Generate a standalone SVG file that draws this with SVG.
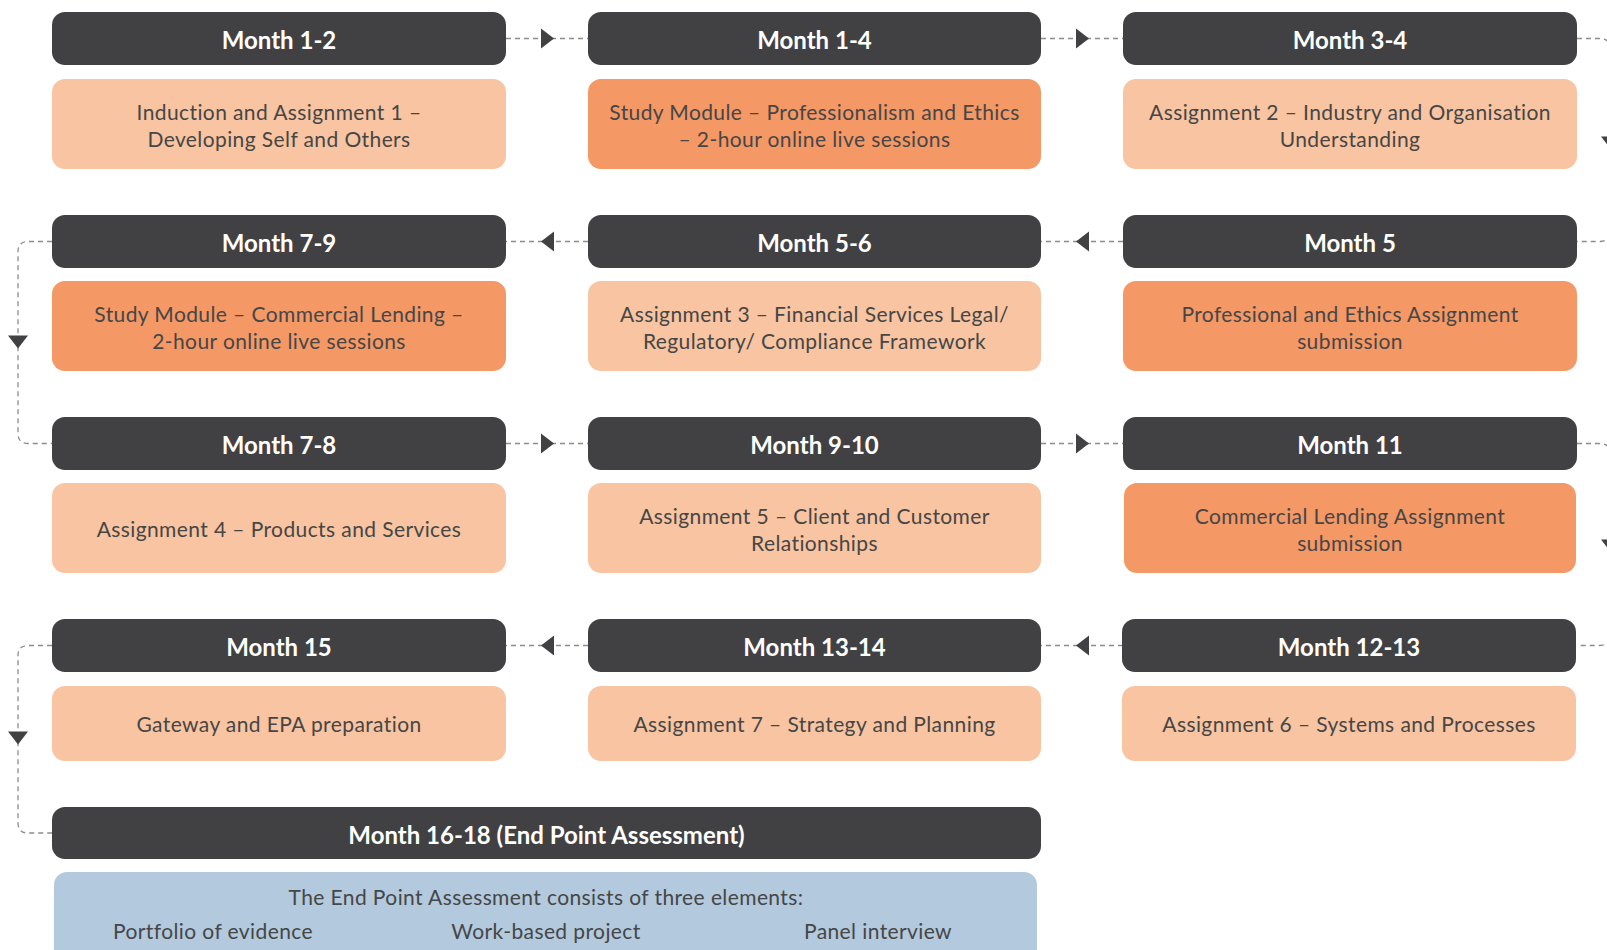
<svg xmlns="http://www.w3.org/2000/svg" width="1607" height="950" viewBox="0 0 1607 950">
<style>
.hd{fill:#414143}
.lt{fill:#F8C4A1}
.or{fill:#F49866}
.bl{fill:#B2C9DE}
.ht{font-family:Lato,"Liberation Sans",sans-serif;font-weight:700;font-size:24px;fill:#ffffff;text-anchor:middle}
.bt{font-family:Lato,"Liberation Sans",sans-serif;font-size:21px;letter-spacing:0.4px;fill:#464646;text-anchor:middle}
.cn{fill:none;stroke:#8c8c8c;stroke-width:1.3;stroke-dasharray:5 4}
.ah{fill:#414143}
</style>
<defs>
<path id="ar" d="M-6.5,-10 L6.5,0 L-6.5,10 Z"/>
</defs>
<rect width="1607" height="950" fill="#ffffff"/>
<g id="connectors">
<path class="cn" d="M506,38.5 H588"/>
<path class="cn" d="M1041,38.5 H1123"/>
<path class="cn" d="M1577,38.5 H1599 Q1611,38.5 1611,50.5 V229.5 Q1611,241.5 1599,241.5 H1577"/>
<path class="cn" d="M1123,241.5 H1041"/>
<path class="cn" d="M588,241.5 H506"/>
<path class="cn" d="M52,241.5 H28 Q18,241.5 18,251.5 V433.5 Q18,443.5 28,443.5 H52"/>
<path class="cn" d="M506,443.5 H588"/>
<path class="cn" d="M1041,443.5 H1123"/>
<path class="cn" d="M1577,443.5 H1599 Q1611,443.5 1611,455.5 V633.5 Q1611,645.5 1599,645.5 H1577"/>
<path class="cn" d="M1123,645.5 H1041"/>
<path class="cn" d="M588,645.5 H506"/>
<path class="cn" d="M52,645.5 H28 Q18,645.5 18,655.5 V823 Q18,833 28,833 H52"/>
<use href="#ar" class="ah" transform="translate(547.5,38.5)"/>
<use href="#ar" class="ah" transform="translate(1082.5,38.5)"/>
<use href="#ar" class="ah" transform="translate(1611,143) rotate(90)"/>
<use href="#ar" class="ah" transform="translate(1082.5,241.5) rotate(180)"/>
<use href="#ar" class="ah" transform="translate(547.5,241.5) rotate(180)"/>
<use href="#ar" class="ah" transform="translate(18,342) rotate(90)"/>
<use href="#ar" class="ah" transform="translate(547.5,443.5)"/>
<use href="#ar" class="ah" transform="translate(1082.5,443.5)"/>
<use href="#ar" class="ah" transform="translate(1611,546) rotate(90)"/>
<use href="#ar" class="ah" transform="translate(1082.5,645.5) rotate(180)"/>
<use href="#ar" class="ah" transform="translate(547.5,645.5) rotate(180)"/>
<use href="#ar" class="ah" transform="translate(18,738) rotate(90)"/>
</g>
<g id="n1">
<rect class="hd" x="52" y="12" width="454" height="53" rx="13"/>
<text class="ht" x="279" y="48.5">Month 1-2</text>
<rect class="lt" x="52" y="79" width="454" height="90" rx="13"/>
<text class="bt" x="279" y="120">Induction and Assignment 1 –</text>
<text class="bt" x="279" y="147">Developing Self and Others</text>
</g>
<g id="n2">
<rect class="hd" x="588" y="12" width="453" height="53" rx="13"/>
<text class="ht" x="814.5" y="48.5">Month 1-4</text>
<rect class="or" x="588" y="79" width="453" height="90" rx="13"/>
<text class="bt" x="814.5" y="120">Study Module – Professionalism and Ethics</text>
<text class="bt" x="814.5" y="147">– 2-hour online live sessions</text>
</g>
<g id="n3">
<rect class="hd" x="1123" y="12" width="454" height="53" rx="13"/>
<text class="ht" x="1350" y="48.5">Month 3-4</text>
<rect class="lt" x="1123" y="79" width="454" height="90" rx="13"/>
<text class="bt" x="1350" y="120">Assignment 2 – Industry and Organisation</text>
<text class="bt" x="1350" y="147">Understanding</text>
</g>
<g id="n4">
<rect class="hd" x="1123" y="215" width="454" height="53" rx="13"/>
<text class="ht" x="1350" y="251.5">Month 5</text>
<rect class="or" x="1123" y="281" width="454" height="90" rx="13"/>
<text class="bt" x="1350" y="322">Professional and Ethics Assignment</text>
<text class="bt" x="1350" y="349">submission</text>
</g>
<g id="n5">
<rect class="hd" x="588" y="215" width="453" height="53" rx="13"/>
<text class="ht" x="814.5" y="251.5">Month 5-6</text>
<rect class="lt" x="588" y="281" width="453" height="90" rx="13"/>
<text class="bt" x="814.5" y="322">Assignment 3 – Financial Services Legal/</text>
<text class="bt" x="814.5" y="349">Regulatory/ Compliance Framework</text>
</g>
<g id="n6">
<rect class="hd" x="52" y="215" width="454" height="53" rx="13"/>
<text class="ht" x="279" y="251.5">Month 7-9</text>
<rect class="or" x="52" y="281" width="454" height="90" rx="13"/>
<text class="bt" x="279" y="322">Study Module – Commercial Lending –</text>
<text class="bt" x="279" y="349">2-hour online live sessions</text>
</g>
<g id="n7">
<rect class="hd" x="52" y="417" width="454" height="53" rx="13"/>
<text class="ht" x="279" y="453.5">Month 7-8</text>
<rect class="lt" x="52" y="483" width="454" height="90" rx="13"/>
<text class="bt" x="279" y="537">Assignment 4 – Products and Services</text>
</g>
<g id="n8">
<rect class="hd" x="588" y="417" width="453" height="53" rx="13"/>
<text class="ht" x="814.5" y="453.5">Month 9-10</text>
<rect class="lt" x="588" y="483" width="453" height="90" rx="13"/>
<text class="bt" x="814.5" y="524">Assignment 5 – Client and Customer</text>
<text class="bt" x="814.5" y="551">Relationships</text>
</g>
<g id="n9">
<rect class="hd" x="1123" y="417" width="454" height="53" rx="13"/>
<text class="ht" x="1350" y="453.5">Month 11</text>
<rect class="or" x="1124" y="483" width="452" height="90" rx="13"/>
<text class="bt" x="1350" y="524">Commercial Lending Assignment</text>
<text class="bt" x="1350" y="551">submission</text>
</g>
<g id="n10">
<rect class="hd" x="1122" y="619" width="454" height="53" rx="13"/>
<text class="ht" x="1349" y="655.5">Month 12-13</text>
<rect class="lt" x="1122" y="686" width="454" height="75" rx="13"/>
<text class="bt" x="1349" y="732">Assignment 6 – Systems and Processes</text>
</g>
<g id="n11">
<rect class="hd" x="588" y="619" width="453" height="53" rx="13"/>
<text class="ht" x="814.5" y="655.5">Month 13-14</text>
<rect class="lt" x="588" y="686" width="453" height="75" rx="13"/>
<text class="bt" x="814.5" y="732">Assignment 7 – Strategy and Planning</text>
</g>
<g id="n12">
<rect class="hd" x="52" y="619" width="454" height="53" rx="13"/>
<text class="ht" x="279" y="655.5">Month 15</text>
<rect class="lt" x="52" y="686" width="454" height="75" rx="13"/>
<text class="bt" x="279" y="732">Gateway and EPA preparation</text>
</g>
<g id="n13">
<rect class="hd" x="52" y="807" width="989" height="52" rx="13"/>
<text class="ht" x="546.5" y="843.5">Month 16-18 (End Point Assessment)</text>
<rect class="bl" x="54" y="872" width="983" height="100" rx="13"/>
<text class="bt" x="546" y="905">The End Point Assessment consists of three elements:</text>
<text class="bt" x="213" y="939">Portfolio of evidence</text>
<text class="bt" x="546" y="939">Work-based project</text>
<text class="bt" x="878" y="939">Panel interview</text>
</g>
</svg>
